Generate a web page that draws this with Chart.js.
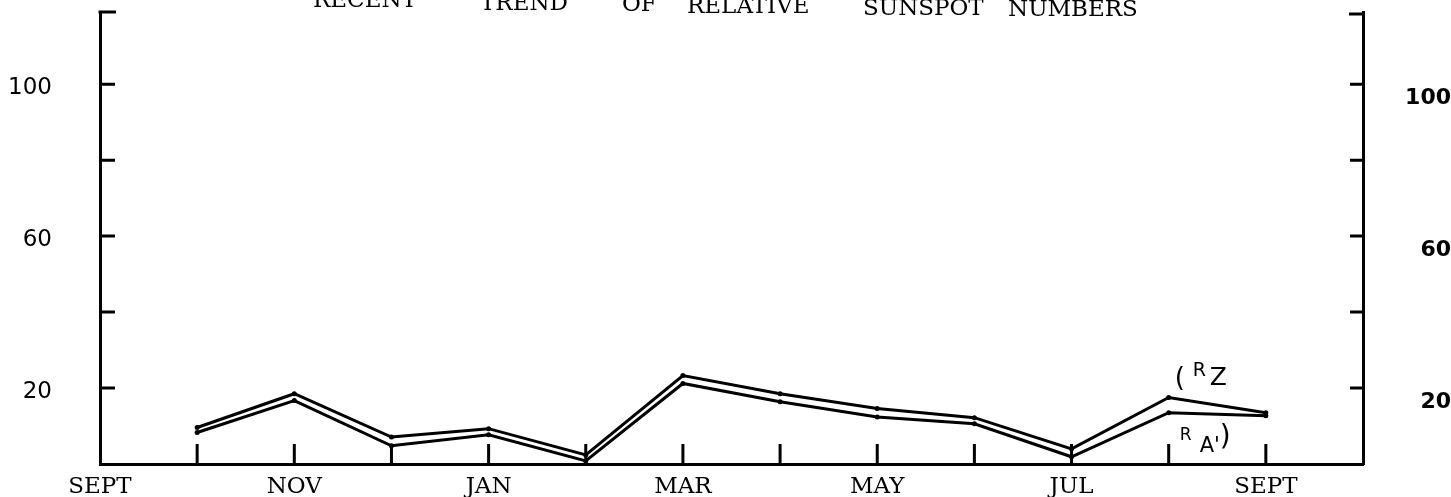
<!DOCTYPE html>
<html lang="en">
<head>
<meta charset="UTF-8">
<title>Recent trend of relative sunspot numbers</title>
<style>
  body { margin: 0; background: #fff; }
</style>
</head>
<body>
<canvas id="myChart" width="1451" height="497"></canvas>

<script src="https://cdn.jsdelivr.net/npm/chart.js@4.4.0/dist/chart.umd.min.js"></script>
<script>
// months from one Sept to the next Oct, only the even ones get a label
const monthLabels = ['SEPT', 'OCT', 'NOV', 'DEC', 'JAN', 'FEB', 'MAR', 'APR', 'MAY', 'JUN', 'JUL', 'AUG', 'SEPT', 'OCT'];
const monthIndex = [1, 2, 3, 4, 5, 6, 7, 8, 9, 10, 11, 12];
// Rz and RA'
const rzValues = [9.6, 18.5, 7.1, 9.3, 2.4, 23.3, 18.5, 14.6, 12.2, 4.0, 17.5, 13.5];
const raValues = [8.3, 16.7, 4.8, 7.7, 0.8, 21.2, 16.4, 12.4, 10.6, 1.9, 13.5, 12.7];
const yTickLabels = [20, 60, 100];
const yTickMarks = [20, 40, 60, 80, 100];
const titleWords = ['RECENT', 'TREND', 'OF', 'RELATIVE', 'SUNSPOT', 'NUMBERS'];

const serif = "'DejaVu Serif', serif";
const sans = "'DejaVu Sans', sans-serif";

function toPoints(vals) {
    return monthIndex.map((m, i) => ({ x: m, y: vals[i] }));
}

// typed title, only its lower part shows at the top edge
const titlePlugin = {
    id: 'titlePlugin',
    afterDraw(chart) {
        const ctx = chart.ctx;
        const lefts = [313, 480, 622, 687, 863, 1008];
        const bases = [7, 10, 11, 13, 15, 16];
        ctx.save();
        ctx.fillStyle = '#000';
        ctx.font = '23px ' + serif;
        ctx.textBaseline = 'alphabetic';
        titleWords.forEach((w, i) => ctx.fillText(w, lefts[i], bases[i]));
        ctx.restore();
    }
};

// tick marks point into the plot
const inTicks = {
    id: 'inTicks',
    afterDraw(chart) {
        const { ctx, chartArea: a, scales: { x, y } } = chart;
        ctx.save();
        ctx.strokeStyle = '#000';
        ctx.lineWidth = 3;
        ctx.beginPath();
        monthIndex.forEach(m => {
            const px = x.getPixelForValue(m);
            ctx.moveTo(px, a.bottom);
            ctx.lineTo(px, a.bottom - 20);
        });
        yTickMarks.forEach(v => {
            const py = y.getPixelForValue(v);
            ctx.moveTo(a.left, py);
            ctx.lineTo(a.left + 15, py);
            ctx.moveTo(a.right, py);
            ctx.lineTo(a.right - 13, py);
        });
        ctx.moveTo(a.left - 1.5, a.top);
        ctx.lineTo(a.left + 16, a.top);
        ctx.moveTo(a.right + 1.5, a.top + 2);
        ctx.lineTo(a.right - 14, a.top + 2);
        ctx.stroke();
        ctx.restore();
    }
};

// hand written series names next to the AUG points
const seriesNotes = {
    id: 'seriesNotes',
    afterDraw(chart) {
        const { ctx, scales: { x, y } } = chart;
        const px = x.getPixelForValue(11);
        const pz = y.getPixelForValue(rzValues[10]);
        const pa = y.getPixelForValue(raValues[10]);
        ctx.save();
        ctx.fillStyle = '#000';
        ctx.textBaseline = 'alphabetic';
        ctx.font = '26px ' + sans;
        ctx.fillText('(', px + 6, pz - 12);
        ctx.font = '19px ' + sans;
        ctx.fillText('R', px + 24, pz - 22);
        ctx.font = '25px ' + sans;
        ctx.fillText('Z', px + 41, pz - 13);
        ctx.font = '17px ' + sans;
        ctx.fillText('R', px + 11, pa + 27);
        ctx.font = '21px ' + sans;
        ctx.fillText("A'", px + 31, pa + 39);
        ctx.font = '28px ' + sans;
        ctx.fillText(')', px + 51, pa + 32);
        ctx.restore();
    }
};

const axisLine = { color: '#000', width: 3 };
const noGrid = { drawOnChartArea: false, drawTicks: false };

// keep the tick label padding from shrinking the plot area
function fixBox(w, h) {
    return s => {
        if (w) s.width = w;
        if (h) s.height = h;
        s.paddingTop = 0;
        s.paddingBottom = 0;
        s.paddingLeft = 0;
        s.paddingRight = 0;
    };
}

const config = {
    type: 'line',
    data: {
        datasets: [{
            label: 'Rz',
            data: toPoints(rzValues),
            borderColor: '#000',
            borderWidth: 3,
            pointRadius: 2.5,
            pointBorderWidth: 0,
            pointBackgroundColor: '#000',
            tension: 0
        },
        {
            label: "RA'",
            data: toPoints(raValues),
            borderColor: '#000',
            borderWidth: 3,
            pointRadius: 2.5,
            pointBorderWidth: 0,
            pointBackgroundColor: '#000',
            tension: 0
        }]
    },
    options: {
        responsive: false,
        animation: false,
        layout: { padding: { top: 12 }, autoPadding: false },
        plugins: {
            legend: { display: false },
            tooltip: { enabled: false }
        },
        scales: {
            x: {
                type: 'linear',
                min: 0,
                max: 13,
                border: axisLine,
                grid: noGrid,
                ticks: {
                    stepSize: 1,
                    autoSkip: false,
                    maxRotation: 0,
                    padding: 9,
                    color: '#000',
                    font: { family: serif, size: 23 },
                    callback: v => (v % 2 === 0 ? monthLabels[v] : '')
                },
                afterFit: fixBox(0, 33)
            },
            y: {
                position: 'left',
                min: 0,
                max: 119,
                border: axisLine,
                grid: noGrid,
                ticks: {
                    stepSize: 20,
                    padding: 48,
                    crossAlign: 'near',
                    labelOffset: 4,
                    color: '#000',
                    font: { family: sans, size: 23 },
                    callback: v => (yTickLabels.includes(v) ? String(v) : '')
                },
                afterFit: fixBox(100, 0)
            },
            y2: {
                position: 'right',
                min: 0,
                max: 119,
                border: axisLine,
                grid: noGrid,
                ticks: {
                    stepSize: 20,
                    padding: 37,
                    crossAlign: 'far',
                    labelOffset: 14,
                    color: '#000',
                    font: { family: sans, size: 22, weight: 'bold' },
                    callback: v => (yTickLabels.includes(v) ? String(v) : '')
                },
                afterFit: fixBox(88, 0)
            }
        }
    },
    plugins: [titlePlugin, inTicks, seriesNotes]
};

const myChart = new Chart(document.getElementById('myChart'), config);
</script>
</body>
</html>
